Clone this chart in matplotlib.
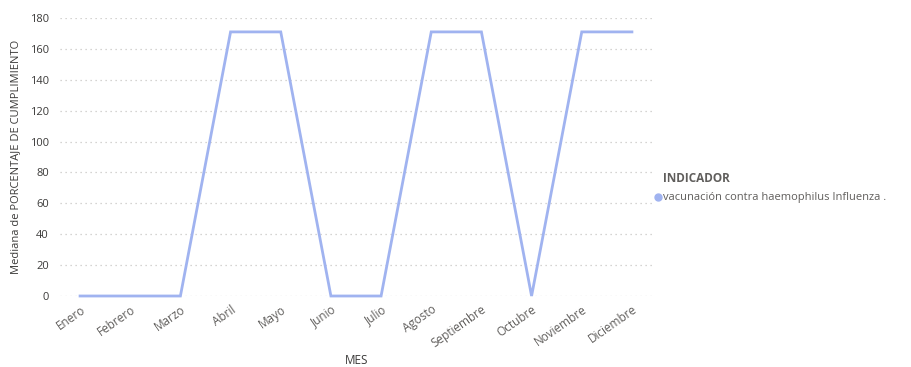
import matplotlib
matplotlib.use("Agg")
import matplotlib.pyplot as plt
from matplotlib.lines import Line2D
from matplotlib.transforms import ScaledTranslation

meses = ["Enero", "Febrero", "Marzo", "Abril", "Mayo", "Junio", "Julio",
         "Agosto", "Septiembre", "Octubre", "Noviembre", "Diciembre"]
mediana = [0, 0, 0, 171, 171, 0, 0, 171, 171, 0, 171, 171]
yticks = [0, 20, 40, 60, 80, 100, 120, 140, 160, 180]
serie = "vacunación contra haemophilus Influenza ."

plt.rcParams["font.family"] = ["Open Sans", "DejaVu Sans"]

color_linea = "#A0B3F0"
gris = "#605E5C"

fig = plt.figure(figsize=(9.11, 3.67), dpi=100)
ax = fig.add_axes([60 / 911, 1 - 296 / 367, 595 / 911, 278 / 367])

x = list(range(len(meses)))
ax.plot(x, mediana, color=color_linea, linewidth=2.0, clip_on=False,
        solid_joinstyle="miter")

ax.set_xlim(-0.4, 11.46)
ax.set_ylim(0, 180)
ax.set_yticks(yticks)
ax.set_xticks(x)
ax.set_xticklabels(meses, rotation=35, ha="right", rotation_mode="anchor",
                   fontsize=8.5, color=gris)
desplazamiento = ScaledTranslation(-5 / 100, 0, fig.dpi_scale_trans)
for etiqueta in ax.get_xticklabels():
    etiqueta.set_transform(etiqueta.get_transform() + desplazamiento)
ax.tick_params(axis="y", labelsize=8, labelcolor="#3b3a39", length=0, pad=8)
ax.tick_params(axis="x", length=0, pad=5)

ax.grid(axis="y", linestyle=(0, (1, 3)), color="#C8C6C4", linewidth=0.9)
ax.set_axisbelow(True)
for s in ax.spines.values():
    s.set_visible(False)

ax.set_ylabel("Mediana de PORCENTAJE DE CUMPLIMIENTO", fontsize=8,
              color="#3b3a39", labelpad=6)
fig.text(357 / 911, 1 - 360 / 367, "MES", fontsize=8.5, color="#3b3a39",
         ha="center", va="center")

# leyenda
fig.text(663 / 911, 1 - 179 / 367, "INDICADOR", fontsize=8.5, fontweight="bold",
         color=gris, va="center", ha="left")
fig.add_artist(Line2D([658 / 911], [1 - 197 / 367], marker="o", markersize=5,
                      color=color_linea, linestyle="none",
                      transform=fig.transFigure))
fig.text(663 / 911, 1 - 197.5 / 367, serie, fontsize=8, color=gris,
         va="center", ha="left")

fig.savefig("out.png", dpi=100)
